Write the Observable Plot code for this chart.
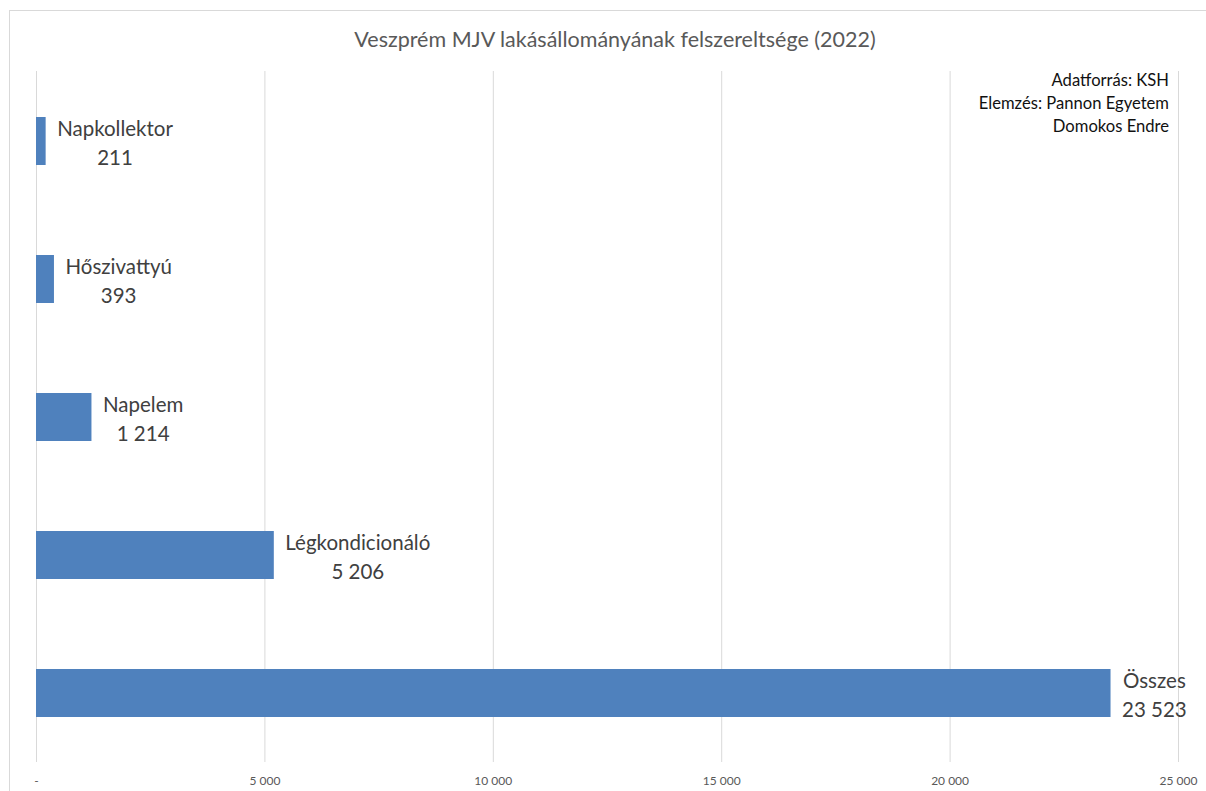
<!DOCTYPE html>
<html>
<head>
<meta charset="utf-8">
<script src="https://cdn.jsdelivr.net/npm/d3@7"></script>
<script src="https://cdn.jsdelivr.net/npm/@observablehq/plot@0.6"></script>
<style>
  html, body { margin: 0; padding: 0; background: #fff; }
  #wrap { position: relative; width: 1206px; height: 791px; overflow: hidden; font-family: Lato, "Open Sans", sans-serif; }
  #frame { position: absolute; left: 9px; top: 10px; width: 1300px; height: 900px; border-left: 1px solid #d9d9d9; border-top: 1px solid #d9d9d9; }
  #title { position: absolute; left: 0; top: 27px; width: 1230px; text-align: center; font-size: 21.5px; line-height: 25px; color: #595959; }
  #src { position: absolute; right: 37px; top: 69px; text-align: right; font-size: 16.6px; line-height: 23px; color: #111; z-index: 2; }
  #chart { position: absolute; left: 0; top: 60px; }
</style>
</head>
<body>
<div id="wrap">
  <div id="frame"></div>
  <div id="title"></div>
  <div id="src"></div>
  <div id="chart"></div>
</div>
<script>
const titleText = "Veszprém MJV lakásállományának felszereltsége (2022)";
const sourceLines = ["Adatforrás: KSH", "Elemzés: Pannon Egyetem", "Domokos Endre"];
const categories = ["Napkollektor", "Hőszivattyú", "Napelem", "Légkondicionáló", "Összes"];
const values = [211, 393, 1214, 5206, 23523];
const xTicks = [0, 5000, 10000, 15000, 20000, 25000];

document.getElementById("title").textContent = titleText;
document.getElementById("src").innerHTML = sourceLines.map(s => s.replace(/&/g, "&amp;")).join("<br>");

const locale = d3.formatLocale({decimal: ",", thousands: "\u00a0", grouping: [3], currency: ["", ""]});
const fmt = locale.format(",d");
const tickFmt = d => d === 0 ? "-" : fmt(d);

const data = categories.map((c, i) => ({category: c, value: values[i]}));

const chart = Plot.plot({
  width: 1206,
  height: 731,
  marginTop: 11,
  marginBottom: 29,
  marginLeft: 36,
  marginRight: 28,
  style: {fontFamily: "Lato, 'Open Sans', sans-serif", background: "transparent", color: "#595959", fontSize: "12px"},
  x: {domain: [0, 25000], label: null},
  y: {domain: categories, paddingInner: 0.653, paddingOuter: 0.3265, axis: null},
  marks: [
    Plot.ruleX(xTicks, {stroke: "#d9d9d9", strokeWidth: 1}),
    Plot.barX(data, {x: "value", y: "category", fill: "#4f81bd"}),
    Plot.text(data, {
      x: "value", y: "category",
      text: d => `${d.category}\n${fmt(d.value)}`,
      textAnchor: "middle", lineAnchor: "middle", lineHeight: 1.4,
      fontSize: 20.5, fill: "#404040"
    }),
    Plot.axisX({ticks: xTicks, tickFormat: tickFmt, tickSize: 0, tickPadding: 14, fontSize: 12, fill: "#595959", label: null})
  ]
});
document.getElementById("chart").appendChild(chart);

// place each label block to the right of its bar, lines centered on each other
chart.querySelectorAll('g[aria-label="text"] text').forEach(el => {
  const bb = el.getBBox();
  const shift = 11 - bb.x;
  el.setAttribute("transform", `translate(${shift},0) ` + (el.getAttribute("transform") || ""));
});
</script>
</body>
</html>
